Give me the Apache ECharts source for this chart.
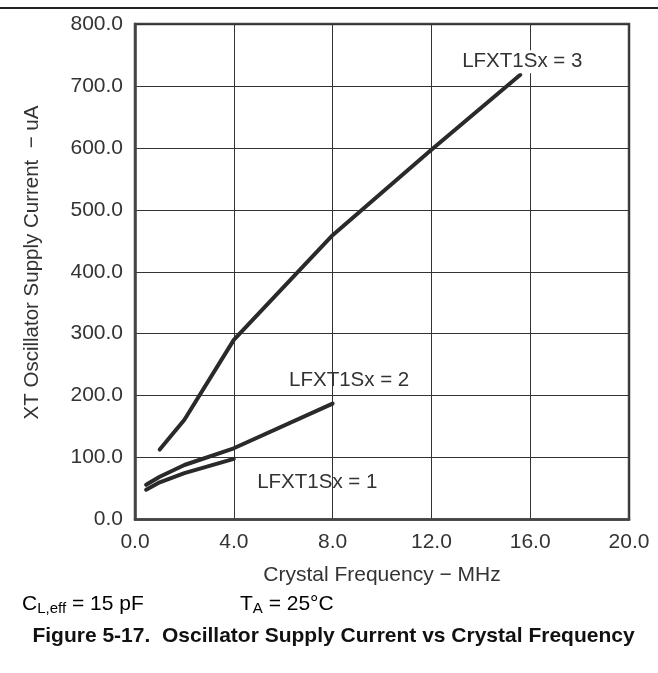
<!DOCTYPE html>
<html>
<head>
<meta charset="utf-8">
<script src="https://cdn.jsdelivr.net/npm/echarts@6/dist/echarts.min.js"></script>
<style>html,body{margin:0;padding:0;background:#fff;}#c{width:658px;height:673px;}</style>
</head>
<body>
<div id="c"></div>
<script>
// ---- data ----
const freq1 = [0.45, 1.0, 2.0, 4.0];
const curr1 = [48, 60, 75, 98];
const freq2 = [0.45, 1.0, 2.0, 4.0, 8.0];
const curr2 = [56, 69, 88, 115, 187];
const freq3 = [1.0, 2.0, 4.0, 8.0, 12.0, 15.6];
const curr3 = [113, 161, 290, 459, 597, 718];
const seriesNames = ['LFXT1Sx = 1', 'LFXT1Sx = 2', 'LFXT1Sx = 3'];
const labelPos = [[7.38, 60], [8.67, 225], [15.68, 739]];
const xTicks = [0, 4, 8, 12, 16, 20];
const yTicks = [0, 100, 200, 300, 400, 500, 600, 700, 800];

const FONT = '"Liberation Sans", Arial, sans-serif';
const TXT = '#333';
const LINE = '#2a2a2a';

function pairs(xs, ys) { return xs.map((x, i) => [x, ys[i]]); }

function mkSeries(i, xs, ys) {
  return {
    type: 'line', name: seriesNames[i], data: pairs(xs, ys),
    showSymbol: false, symbol: 'none', smooth: false,
    lineStyle: { color: LINE, width: 4, cap: 'round', join: 'round' },
    z: 3,
    markPoint: {
      symbol: 'rect', symbolSize: 0, silent: true,
      data: [{ coord: labelPos[i], value: seriesNames[i] }],
      label: {
        show: true, position: 'inside', formatter: seriesNames[i],
        fontFamily: FONT, fontSize: 20.5, color: TXT,
        backgroundColor: i === 2 ? '#fff' : 'transparent', padding: [1, 2]
      },
      z: 5
    }
  };
}

const chart = echarts.init(document.getElementById('c'), null, { renderer: 'canvas' });
chart.setOption({
  animation: false,
  backgroundColor: '#fff',
  grid: { left: 135, top: 24, right: 29, bottom: 153.5, show: true, borderColor: '#444', borderWidth: 2.5, backgroundColor: 'transparent' },
  xAxis: {
    type: 'value', min: 0, max: 20, interval: 4,
    axisLine: { show: true, lineStyle: { color: '#444', width: 2.5 } },
    axisTick: { show: false },
    splitLine: { show: true, lineStyle: { color: '#333', width: 1 } },
    axisLabel: { fontFamily: FONT, fontSize: 21, color: TXT, margin: 12, formatter: v => v.toFixed(1) },
    name: 'Crystal Frequency \u2212 MHz', nameLocation: 'middle', nameGap: 45,
    nameTextStyle: { fontFamily: FONT, fontSize: 21, color: TXT, verticalAlign: 'top' }
  },
  yAxis: {
    type: 'value', min: 0, max: 800, interval: 100,
    axisLine: { show: true, lineStyle: { color: '#444', width: 2.5 } },
    axisTick: { show: false },
    splitLine: { show: true, lineStyle: { color: '#333', width: 1 } },
    axisLabel: { fontFamily: FONT, fontSize: 21, color: TXT, margin: 12, formatter: v => v.toFixed(1) }
  },
  series: [
    mkSeries(0, freq1, curr1),
    mkSeries(1, freq2, curr2),
    mkSeries(2, freq3, curr3)
  ],
  graphic: [
    { type: 'line', shape: { x1: 0, y1: 8, x2: 658, y2: 8 }, style: { stroke: '#222', lineWidth: 2 } },
    { type: 'text', x: 32.5, y: 262.5, rotation: Math.PI / 2,
      style: { text: 'XT Oscillator Supply Current  \u2212 uA', font: '20.5px ' + FONT, fill: TXT, align: 'center', verticalAlign: 'middle' } },
    { type: 'text', x: 22, y: 604,
      style: { text: '{m|C}{s|L,eff}{m| = 15 pF}', align: 'left', verticalAlign: 'middle',
        rich: { m: { fontFamily: FONT, fontSize: 21, color: '#111' }, s: { fontFamily: FONT, fontSize: 15, color: '#111', verticalAlign: 'bottom', padding: [9, 0, 0, 0] } } } },
    { type: 'text', x: 240, y: 604,
      style: { text: '{m|T}{s|A}{m| = 25\u00b0C}', align: 'left', verticalAlign: 'middle',
        rich: { m: { fontFamily: FONT, fontSize: 21, color: '#111' }, s: { fontFamily: FONT, fontSize: 15, color: '#111', verticalAlign: 'bottom', padding: [9, 0, 0, 0] } } } },
    { type: 'text', x: 333.5, y: 636,
      style: { text: 'Figure 5-17.  Oscillator Supply Current vs Crystal Frequency', font: 'bold 21px ' + FONT, fill: '#111', align: 'center', verticalAlign: 'middle' } }
  ]
});
</script>
</body>
</html>
